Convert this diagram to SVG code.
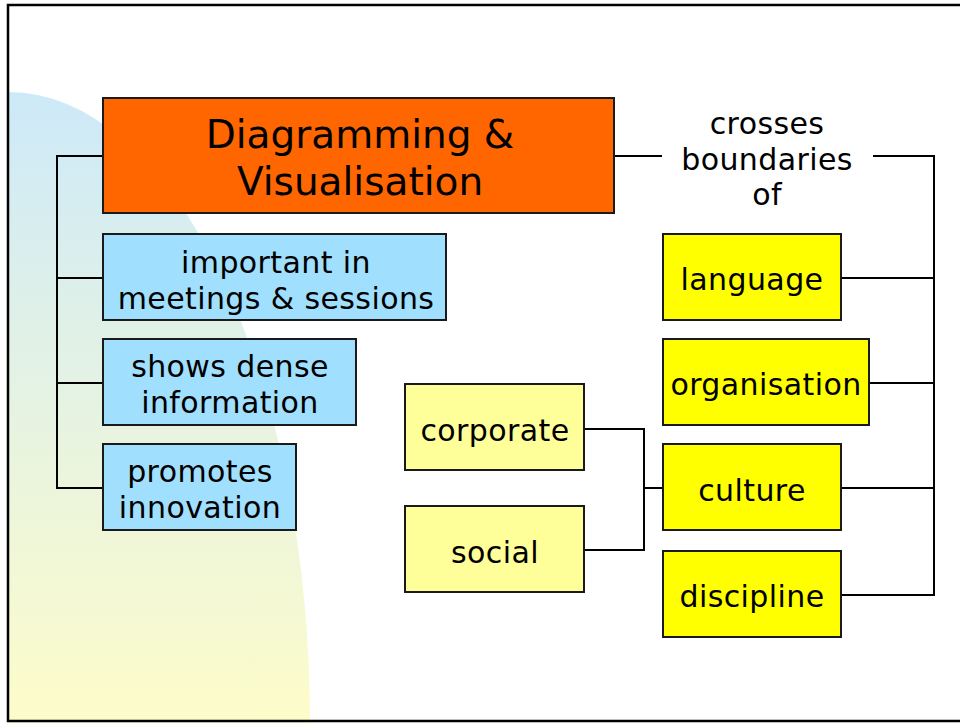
<svg xmlns="http://www.w3.org/2000/svg" width="960" height="723" viewBox="0 0 960 723">
<defs>
<linearGradient id="bg" x1="0" y1="92" x2="0" y2="723" gradientUnits="userSpaceOnUse">
<stop offset="0" stop-color="#cde9f8"/>
<stop offset="0.5" stop-color="#e6f3e2"/>
<stop offset="1" stop-color="#fdfcca"/>
</linearGradient>
<style>
.box{stroke:#1a1a1a;stroke-width:2}
.main{fill:#ff6600}
.blue{fill:#a0dffd}
.yel{fill:#ffff00}
.lyel{fill:#ffff99}
.t{font-family:"DejaVu Sans","Verdana",sans-serif;fill:#000;text-anchor:middle}
.big{font-size:39px}
.sm{font-size:30px;letter-spacing:0.4px}
.con{fill:none;stroke:#000;stroke-width:2}
</style>
</defs>
<rect x="0" y="0" width="960" height="723" fill="#fff"/>
<path d="M8,92 A302,631 0 0 1 310,723 L8,723 Z" fill="url(#bg)"/>
<path d="M962,5 L8,5 L8,721 L962,721" fill="none" stroke="#000" stroke-width="2.5"/>

<g id="connectors">
<path class="con" d="M103,156 H57 V488 H103 M57,278 H103 M57,383 H103"/>
<path class="con" d="M614,156 H662"/>
<path class="con" d="M873,156 H934 V595 H841 M841,278 H934 M869,383 H934 M841,488 H934"/>
<path class="con" d="M584,429 H644 V550 H584 M644,488 H663"/>
</g>

<g id="main">
<rect class="box main" x="103" y="98" width="511" height="115"/>
<text class="t big" x="360" y="148">Diagramming &amp;</text>
<text class="t big" x="360" y="195">Visualisation</text>
</g>

<g id="important">
<rect class="box blue" x="103" y="234" width="343" height="86"/>
<text class="t sm" x="276" y="273">important in</text>
<text class="t sm" x="276" y="309">meetings &amp; sessions</text>
</g>
<g id="dense">
<rect class="box blue" x="103" y="339" width="253" height="86"/>
<text class="t sm" x="230" y="377">shows dense</text>
<text class="t sm" x="230" y="413">information</text>
</g>
<g id="innovation">
<rect class="box blue" x="103" y="444" width="193" height="86"/>
<text class="t sm" x="200" y="482">promotes</text>
<text class="t sm" x="200" y="518">innovation</text>
</g>

<g id="crosses">
<text class="t sm" x="767" y="134">crosses</text>
<text class="t sm" x="767" y="170">boundaries</text>
<text class="t sm" x="767" y="205">of</text>
</g>

<g id="language">
<rect class="box yel" x="663" y="234" width="178" height="86"/>
<text class="t sm" x="752" y="290">language</text>
</g>
<g id="organisation">
<rect class="box yel" x="663" y="339" width="206" height="86"/>
<text class="t sm" x="766" y="395">organisation</text>
</g>
<g id="culture">
<rect class="box yel" x="663" y="444" width="178" height="86"/>
<text class="t sm" x="752" y="501">culture</text>
</g>
<g id="discipline">
<rect class="box yel" x="663" y="551" width="178" height="86"/>
<text class="t sm" x="752" y="607">discipline</text>
</g>

<g id="corporate">
<rect class="box lyel" x="405" y="384" width="179" height="86"/>
<text class="t sm" x="495" y="441">corporate</text>
</g>
<g id="social">
<rect class="box lyel" x="405" y="506" width="179" height="86"/>
<text class="t sm" x="495" y="563">social</text>
</g>
</svg>
